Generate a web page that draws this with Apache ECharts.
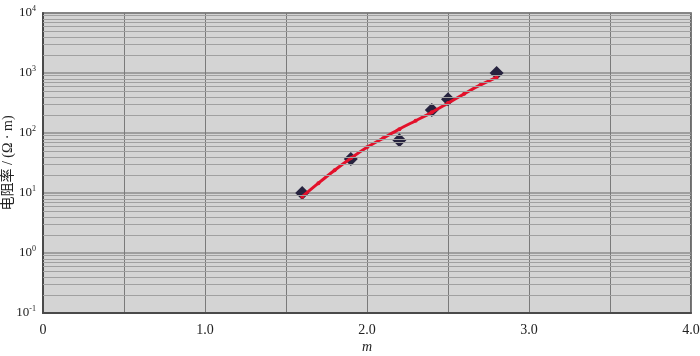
<!DOCTYPE html>
<html><head><meta charset="utf-8">
<script src="https://cdn.jsdelivr.net/npm/echarts@6/dist/echarts.min.js"></script>
<style>html,body{margin:0;padding:0;background:#fff}#c{width:700px;height:356px}</style>
</head><body><div id="c"></div>
<script>
// measured points (m, resistivity)
const pointM = [1.6, 1.9, 2.2, 2.4, 2.5, 2.8];
const pointR = [10, 37, 76, 242, 364, 1000];
// fitted curve
const lineM = [1.6, 1.7, 1.8, 1.9, 2.0, 2.1, 2.2, 2.3, 2.4, 2.5, 2.6, 2.7, 2.8];
const lineR = [8.7, 14.6, 24, 38, 58, 82, 116, 160, 221, 315, 449, 632, 848];
const xTickLabels = ['0', '1.0', '2.0', '3.0', '4.0'];
const decades = [-1, 0, 1, 2, 3];
const minorMultipliers = [2, 3, 4, 5, 6, 7, 8, 9];

const minorLines = [];
decades.forEach(k => minorMultipliers.forEach(j => minorLines.push({yAxis: j * Math.pow(10, k)})));

const serif = "'Liberation Serif','Times New Roman',serif";
const chart = echarts.init(document.getElementById('c'));
chart.setOption({
  animation: false,
  grid: {left: 43, right: 9, top: 13, bottom: 43, containLabel: false, outerBoundsMode: 'none',
    show: true, backgroundColor: '#d4d4d4', borderColor: '#4a4a4a', borderWidth: 1.5},
  xAxis: {
    type: 'value', min: 0, max: 4, interval: 0.5,
    name: 'm', nameLocation: 'middle', nameGap: 27, nameMoveOverlap: false,
    nameTextStyle: {fontFamily: serif, fontStyle: 'italic', fontSize: 14, color: '#222'},
    axisLine: {show: true, lineStyle: {color: '#4a4a4a', width: 2}},
    axisTick: {show: false},
    axisLabel: {fontFamily: serif, fontSize: 14, color: '#222', margin: 10,
      formatter: v => (Math.abs(v - Math.round(v)) < 1e-9 ? xTickLabels[Math.round(v)] : '')},
    splitLine: {show: true, lineStyle: {color: '#7a7a7a', width: 1}}
  },
  yAxis: {
    type: 'log', logBase: 10, min: 0.1, max: 10000,
    name: '电阻率 / (Ω · m)', nameLocation: 'middle', nameGap: 28, nameMoveOverlap: false,
    nameTextStyle: {fontFamily: serif + ",'Noto Sans CJK SC'", fontSize: 14, color: '#222'},
    axisLine: {show: true, lineStyle: {color: '#4a4a4a', width: 2}},
    axisTick: {show: false},
    axisLabel: {
      fontFamily: serif, fontSize: 13, color: '#222', margin: 7,
      formatter: v => '10{s|' + Math.round(Math.log10(v)) + '}',
      rich: {s: {fontSize: 8, verticalAlign: 'top', padding: [0, 0, 8, 0], fontFamily: serif, color: '#222'}}
    },
    splitLine: {show: true, lineStyle: {color: '#8c8c8c', width: 1.5}}
  },
  series: [
    {
      type: 'line', data: [], silent: true, z: 1,
      markLine: {silent: true, symbol: 'none', label: {show: false}, animation: false,
        lineStyle: {type: 'solid', color: '#a0a0a0', width: 1}, data: minorLines}
    },
    {
      type: 'line', smooth: 0.3, z: 3,
      data: lineM.map((m, i) => [m, lineR[i]]),
      symbol: 'circle', symbolSize: 4, showSymbol: true,
      itemStyle: {color: '#e3112b'},
      lineStyle: {color: '#e3112b', width: 3}
    },
    {
      type: 'scatter', z: 2,
      data: pointM.map((m, i) => [m, pointR[i]]),
      symbol: 'diamond', symbolSize: [14, 14],
      itemStyle: {color: '#27233f', opacity: 1}
    }
  ]
});
</script></body></html>
